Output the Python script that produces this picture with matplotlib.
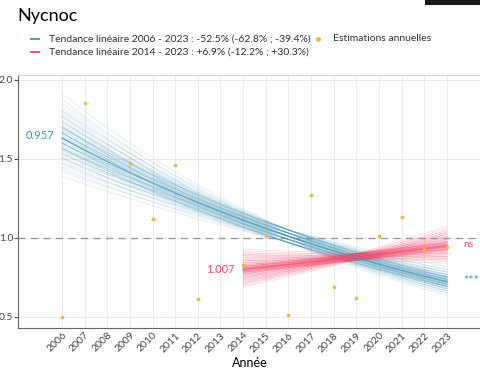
import numpy as np
import matplotlib.pyplot as plt
from matplotlib.patches import Rectangle

plt.rcParams['font.family'] = ['Lato', 'DejaVu Sans']

years = [2006, 2007, 2009, 2010, 2011, 2012, 2014, 2015, 2016, 2017, 2018, 2019, 2020, 2021, 2022, 2023]
estim = [0.50, 1.85, 1.47, 1.12, 1.46, 0.61, 0.83, 1.01, 0.51, 1.27, 0.69, 0.62, 1.01, 1.13, 0.93, 0.94]

# trend fans: value at pivot year, growth rate range (log scale)
blue_years = (2006, 2023)
blue_pivot = 2016
blue_c = (0.97, 1.05)
blue_b = (-0.060, -0.036)
red_years = (2014, 2023)
red_pivot = 2019
red_c = (0.86, 0.90)
red_b = (-0.006, 0.044)

blue = '#3f95b5'
red = '#f2486a'
orange = '#f6b443'

fig = plt.figure(figsize=(4.81, 3.71), dpi=100)
ax = fig.add_axes([0.0374, 0.116, 0.9626, 0.682])

ax.axhline(1.0, color='#9a9a9a', lw=1.0, ls=(0, (5, 4)), zorder=1)


def fan(yrs, pivot, crange, brange, color, alpha, n=15, m=5):
    t = np.linspace(yrs[0], yrs[1], 60)
    u = np.linspace(-1, 1, n)
    u = np.sign(u) * np.abs(u) ** 2
    bs = np.mean(brange) + u * (brange[1] - brange[0]) / 2
    cs = np.linspace(crange[0], crange[1], m)
    for b in bs:
        for c in cs:
            ax.plot(t, c * np.exp(b * (t - pivot)), color=color, lw=0.6, alpha=alpha, zorder=2)
    bm, cm = np.mean(brange), np.mean(crange)
    ax.plot(t, cm * np.exp(bm * (t - pivot)), color=color, lw=1.2, alpha=0.5, zorder=3)


fan(blue_years, blue_pivot, blue_c, blue_b, blue, 0.16)
fan(red_years, red_pivot, red_c, red_b, red, 0.2)

ax.scatter(years, estim, s=7, color=orange, zorder=4, linewidths=0)

ax.text(2005.05, 1.65, '0.957', color=blue, fontsize=8, ha='center', va='center')
ax.text(2013.0, 0.80, '1.007', color=red, fontsize=8, ha='center', va='center')
ax.text(2023.95, 0.96, 'ns', color=red, fontsize=7.5, ha='center', va='center')
ax.text(2024.05, 0.73, '***', color=blue, fontsize=9, ha='center', va='center')

ax.set_xlim(2004.06, 2024.5)
ax.set_ylim(0.43, 2.03)
ax.set_xticks(range(2006, 2024))
ax.set_xticklabels([str(y) for y in range(2006, 2024)], rotation=45, ha='right',
                   rotation_mode='anchor', fontsize=7.5, color='#444444')
ax.set_yticks([0.5, 1.0, 1.5, 2.0])
ax.set_yticklabels(['0.5', '1.0', '1.5', '2.0'], fontsize=7.5, color='#444444')
ax.tick_params(axis='x', length=0, pad=2)
ax.tick_params(axis='y', length=3, color='#555555', pad=0.5)
ax.grid(True, color='#ebebeb', lw=0.7)
ax.set_axisbelow(True)
for s in ['top', 'right']:
    ax.spines[s].set_color('#d0d0d0')
for s in ['left', 'bottom']:
    ax.spines[s].set_color('#666666')
ax.set_xlabel('Année', fontsize=9, labelpad=2)

fig.text(0.037, 0.958, 'Nycnoc', fontsize=13, va='center', ha='left')

# legend
fig.add_artist(plt.Line2D([0.064, 0.081], [0.895, 0.895], color=blue, lw=1.3))
fig.text(0.101, 0.895, 'Tendance linéaire 2006 - 2023 : -52.5% (-62.8% ; -39.4%)',
         fontsize=7.5, va='center', color='#333333')
fig.add_artist(plt.Line2D([0.064, 0.081], [0.860, 0.860], color=red, lw=1.3))
fig.text(0.101, 0.860, 'Tendance linéaire 2014 - 2023 : +6.9% (-12.2% ; +30.3%)',
         fontsize=7.5, va='center', color='#333333')
fig.add_artist(plt.Line2D([0.661], [0.895], marker='o', ms=2.5, color=orange, lw=0))
fig.text(0.692, 0.895, 'Estimations annuelles', fontsize=7.5, va='center', color='#333333')

fig.add_artist(Rectangle((0.884, 0.987), 0.116, 0.013, transform=fig.transFigure,
                         color='#1a1a1a', lw=0))

fig.savefig('out.png', dpi=100)
